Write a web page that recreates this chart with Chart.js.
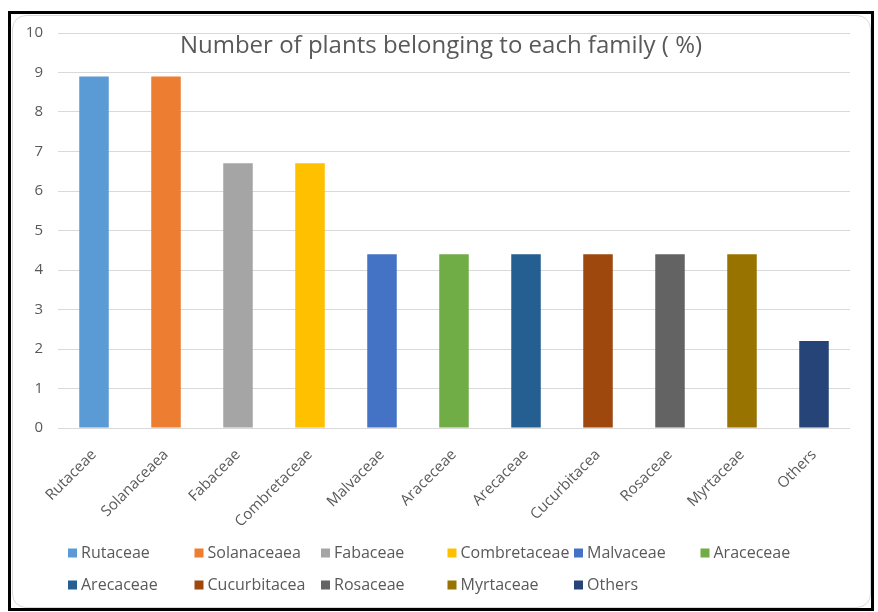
<!DOCTYPE html>
<html>
<head>
<meta charset="utf-8">
<script src="https://cdn.jsdelivr.net/npm/chart.js@4/dist/chart.umd.min.js"></script>
<style>
  html, body { margin: 0; padding: 0; background: #ffffff; width: 878px; height: 612px; overflow: hidden; }
  #frame { position: absolute; left: 8px; top: 11px; width: 860px; height: 594px; border: 3px solid #000; }
  #inner { position: absolute; left: 1px; top: 1px; right: 0px; bottom: 0px; border: 1px solid #d9d9d9; border-radius: 14px; }
  #c { position: absolute; left: 0; top: 0; }
</style>
</head>
<body>
<div id="frame"><div id="inner"></div></div>
<canvas id="c" width="878" height="612"></canvas>
<script>
const chartTitle = "Number of plants belonging to each family ( %)";
const categories = ["Rutaceae", "Solanaceaea", "Fabaceae", "Combretaceae", "Malvaceae", "Araceceae",
                    "Arecaceae", "Cucurbitacea", "Rosaceae", "Myrtaceae", "Others"];
const values = [8.9, 8.9, 6.7, 6.7, 4.4, 4.4, 4.4, 4.4, 4.4, 4.4, 2.2];
const barColors = ["#5B9BD5", "#ED7D31", "#A5A5A5", "#FFC000", "#4472C4", "#70AD47",
                   "#255E91", "#9E480E", "#636363", "#997300", "#264478"];
const yMin = 0, yMax = 10, yStep = 1;

const FONT = "'Open Sans', 'DejaVu Sans', sans-serif";
const TEXT = "#595959";

const titlePlugin = {
  id: 'overlayTitle',
  afterDraw(chart) {
    const ctx = chart.ctx;
    ctx.save();
    ctx.font = "24px " + FONT;
    ctx.fillStyle = TEXT;
    ctx.textAlign = "center";
    ctx.textBaseline = "middle";
    ctx.fillText(chartTitle, 441, 46);
    ctx.restore();
  }
};

const legendPlugin = {
  id: 'gridLegend',
  afterDraw(chart) {
    const ctx = chart.ctx;
    const labels = chart.data.labels;
    const cols = chart.data.datasets[0].backgroundColor;
    const startX = 68, colW = 126.5, rowY = [553, 585], perRow = 6, box = 9;
    ctx.save();
    ctx.font = "16px " + FONT;
    ctx.textBaseline = "middle";
    ctx.textAlign = "left";
    labels.forEach((lab, i) => {
      const r = Math.floor(i / perRow), c = i % perRow;
      const x = startX + c * colW, y = rowY[r];
      ctx.fillStyle = cols[i];
      ctx.fillRect(x, y - box / 2, box, box);
      ctx.fillStyle = TEXT;
      ctx.fillText(lab, x + box + 4, y);
    });
    ctx.restore();
  }
};

new Chart(document.getElementById('c'), {
  type: 'bar',
  data: {
    labels: categories,
    datasets: [{
      label: chartTitle,
      data: values,
      backgroundColor: barColors,
      borderWidth: 0,
      categoryPercentage: 1.0,
      barPercentage: 0.41
    }]
  },
  options: {
    responsive: false,
    animation: false,
    devicePixelRatio: 1,
    layout: { padding: { left: 10, right: 28, top: 33, bottom: 0 } },
    plugins: {
      legend: { display: false },
      title: { display: false },
      tooltip: { enabled: false }
    },
    scales: {
      x: {
        grid: { display: false, drawTicks: false },
        border: { display: false },
        ticks: {
          color: TEXT,
          font: { family: FONT, size: 15 },
          minRotation: 45,
          maxRotation: 45,
          padding: 18,
          autoSkip: false
        },
        afterFit(scale) { scale.height = 184; }
      },
      y: {
        min: yMin,
        max: yMax,
        grid: { color: "#d9d9d9", lineWidth: 1, drawTicks: false },
        border: { display: false },
        ticks: {
          stepSize: yStep,
          color: TEXT,
          font: { family: FONT, size: 15 },
          padding: 15
        },
        afterFit(scale) { scale.width = 48; }
      }
    }
  },
  plugins: [titlePlugin, legendPlugin]
});
</script>
</body>
</html>
